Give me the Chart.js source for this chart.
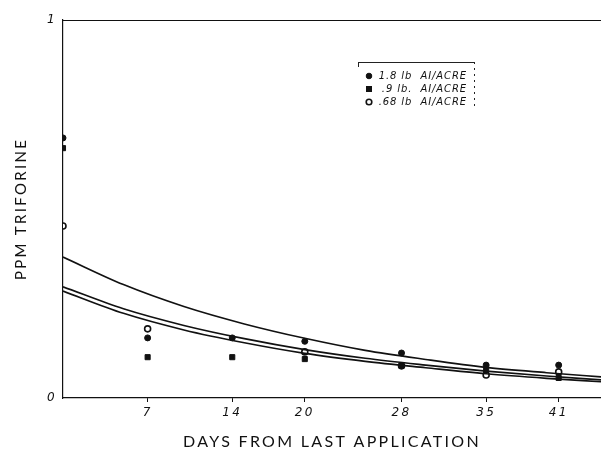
<!DOCTYPE html>
<html>
<head>
<meta charset="utf-8">
<script src="https://cdn.jsdelivr.net/npm/chart.js@4.4.1/dist/chart.umd.min.js"></script>
<style>
  html, body { margin: 0; padding: 0; background: #fff; }
  #wrap { width: 601px; height: 452px; }
</style>
</head>
<body>
<div id="wrap"><canvas id="c" width="601" height="452"></canvas></div>
<script>
// ---- data ----
const sampleDays = [0, 7, 14, 20, 28, 35, 41];
const highDose = [0.688, 0.159, 0.159, 0.150, 0.119, 0.087, 0.087];   // 1.8 lb AI/ACRE
const midDose  = [0.661, 0.108, 0.108, 0.103, 0.085, 0.074, 0.053];   // .9 lb. AI/ACRE
const lowDose  = [0.455, 0.183, null,  0.122, 0.085, 0.061, 0.069];   // .68 lb AI/ACRE

const curveDays  = [0, 5, 10, 15, 20, 25, 30, 35, 40, 44.5];
const curveUpper = [0.373, 0.300, 0.242, 0.196, 0.158, 0.126, 0.102, 0.081, 0.067, 0.056];
const curveMid   = [0.294, 0.236, 0.192, 0.157, 0.128, 0.105, 0.087, 0.071, 0.058, 0.048];
const curveLow   = [0.283, 0.224, 0.180, 0.146, 0.118, 0.097, 0.080, 0.064, 0.052, 0.043];

const xTicks = [7, 14, 20, 28, 35, 41];
const yTicks = [0, 1];
const seriesLabels = ['1.8 lb  AI/ACRE', '.9 lb.  AI/ACRE', '.68 lb  AI/ACRE'];
const xTitle = 'DAYS FROM LAST APPLICATION';
const yTitle = 'PPM TRIFORINE';

const toXY = (xs, ys) => xs.map((x, i) => ({x: x, y: ys[i]})).filter(p => p.y !== null);

const curveStyle = {
  type: 'line', borderColor: '#111', borderWidth: 1.6, pointRadius: 0,
  cubicInterpolationMode: 'monotone', fill: false, isCurve: true
};

const datasets = [
  Object.assign({}, curveStyle, {label: 'fit1', data: toXY(curveDays, curveUpper)}),
  Object.assign({}, curveStyle, {label: 'fit2', data: toXY(curveDays, curveMid)}),
  Object.assign({}, curveStyle, {label: 'fit3', data: toXY(curveDays, curveLow)}),
  {type: 'scatter', label: seriesLabels[0], data: toXY(sampleDays, highDose),
   pointStyle: 'circle', pointRadius: 3, backgroundColor: '#111', borderColor: '#111', borderWidth: 1},
  {type: 'scatter', label: seriesLabels[1], data: toXY(sampleDays, midDose),
   pointStyle: 'rect', pointRadius: 3.6, backgroundColor: '#111', borderColor: '#111', borderWidth: 1},
  {type: 'scatter', label: seriesLabels[2], data: toXY(sampleDays, lowDose),
   pointStyle: 'circle', pointRadius: 3, backgroundColor: '#fff', borderColor: '#111', borderWidth: 1.6}
];

const spacingPlugin = {
  id: 'spacing',
  beforeDraw(chart) { chart.ctx.letterSpacing = '2.3px'; },
  afterDraw(chart) { chart.ctx.letterSpacing = '0px'; }
};

const framePlugin = {
  id: 'frame',
  afterDraw(chart) {
    const {ctx, chartArea: a} = chart;
    ctx.save();
    ctx.strokeStyle = '#111';
    ctx.lineWidth = 1.2;
    ctx.beginPath();
    ctx.moveTo(a.left, a.top + 0.5);
    ctx.lineTo(chart.width, a.top + 0.5);
    ctx.stroke();
    ctx.restore();
  }
};

const legendPlugin = {
  id: 'boxLegend',
  afterDatasetsDraw(chart) {
    const ctx = chart.ctx;
    const bx = 358, by = 62, bw = 117, bh = 46;
    ctx.save();
    ctx.letterSpacing = '0.9px';
    ctx.strokeStyle = '#222';
    ctx.lineWidth = 1;
    ctx.beginPath();
    ctx.moveTo(bx, by + 0.5); ctx.lineTo(bx + bw, by + 0.5);
    ctx.moveTo(bx + 0.5, by); ctx.lineTo(bx + 0.5, by + 5);
    ctx.stroke();
    ctx.setLineDash([2, 4]);
    ctx.beginPath();
    ctx.moveTo(bx + bw - 0.5, by); ctx.lineTo(bx + bw - 0.5, by + bh);
    ctx.stroke();
    ctx.setLineDash([]);
    ctx.font = 'italic 10px "DejaVu Sans", sans-serif';
    ctx.textBaseline = 'middle';
    const pts = chart.data.datasets.filter(d => !d.isCurve);
    pts.forEach((d, i) => {
      const yy = by + 14 + i * 13;
      const mx = bx + 11;
      ctx.beginPath();
      ctx.fillStyle = d.backgroundColor;
      ctx.strokeStyle = d.borderColor;
      ctx.lineWidth = d.borderWidth;
      if (d.pointStyle === 'rect') {
        ctx.fillStyle = '#111';
        ctx.fillRect(mx - 3, yy - 3, 6, 6);
      } else {
        ctx.arc(mx, yy, 2.8, 0, Math.PI * 2);
        ctx.fill(); ctx.stroke();
      }
      ctx.fillStyle = '#111';
      ctx.textAlign = 'right';
      ctx.fillText(d.label, bx + bw - 8, yy);
    });
    ctx.restore();
  }
};

new Chart(document.getElementById('c'), {
  data: { datasets },
  options: {
    responsive: false,
    animation: false,
    layout: { autoPadding: false, padding: { top: 20, right: 0, left: 0, bottom: 0 } },
    plugins: { legend: { display: false }, tooltip: { enabled: false } },
    scales: {
      x: {
        type: 'linear', min: 0, max: 44.5,
        afterBuildTicks: s => { s.ticks = xTicks.map(v => ({value: v})); },
        afterFit: s => { s.height = 54; s.paddingLeft = 0; s.paddingRight = 0; },
        grid: { display: true, drawOnChartArea: false, drawTicks: true, tickLength: 4, color: '#111' },
        border: { display: true, color: '#111', width: 1.2 },
        ticks: { color: '#111', padding: 4, maxRotation: 0, autoSkip: false,
                 font: { family: '"DejaVu Sans", sans-serif', size: 12, style: 'italic' } },
        title: { display: true, text: xTitle, color: '#111', padding: { top: 0, bottom: 1 },
                 font: { family: 'Lato, "DejaVu Sans", sans-serif', size: 16 } }
      },
      y: {
        type: 'linear', min: 0, max: 1,
        afterBuildTicks: s => { s.ticks = yTicks.map(v => ({value: v})); },
        afterFit: s => { s.width = 63; },
        grid: { display: false, drawTicks: false },
        border: { display: true, color: '#111', width: 1.2 },
        ticks: { color: '#111', padding: 6,
                 font: { family: '"DejaVu Sans", sans-serif', size: 12, style: 'italic' } },
        title: { display: true, text: yTitle, color: '#111', padding: { top: 12.5, bottom: 0 },
                 font: { family: 'Lato, "DejaVu Sans", sans-serif', size: 15 } }
      }
    }
  },
  plugins: [spacingPlugin, framePlugin, legendPlugin]
});
</script>
</body>
</html>
